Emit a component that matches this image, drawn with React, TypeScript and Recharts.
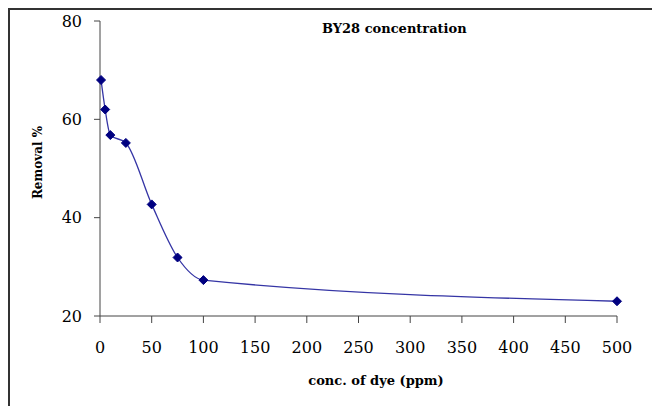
import React from 'react';
import { LineChart, Line, XAxis, YAxis } from 'recharts';

const concentrations = [1, 5, 10, 25, 50, 75, 100, 500];
const removal = [68, 62, 56.8, 55.2, 42.7, 31.9, 27.3, 23];
const xTicks = [0, 50, 100, 150, 200, 250, 300, 350, 400, 450, 500];
const yTicks = [20, 40, 60, 80];

const data = concentrations.map((c, i) => ({ conc: c, removal: removal[i] }));

const serif = '"DejaVu Serif", serif';

const Diamond = (props: any) => {
  const { cx, cy } = props;
  if (cx == null || cy == null) return null;
  const r = 4.5;
  return (
    <polygon
      points={`${cx},${cy - r} ${cx + r},${cy} ${cx},${cy + r} ${cx - r},${cy}`}
      fill="#000080"
      stroke="#000080"
    />
  );
};

const YLabel = (props: any) => {
  const { viewBox } = props;
  const x = 38;
  const y = viewBox.y + viewBox.height / 2 - 6;
  return (
    <text
      x={x}
      y={y}
      transform={`rotate(-90, ${x}, ${y})`}
      textAnchor="middle"
      dominantBaseline="central"
      style={{ fontFamily: serif, fontWeight: 'bold', fontSize: 12 }}
      fill="#000"
    >
      Removal %
    </text>
  );
};

const XLabel = (props: any) => {
  const { viewBox } = props;
  return (
    <text
      x={376}
      y={viewBox.y + 64}
      textAnchor="middle"
      dominantBaseline="central"
      style={{ fontFamily: serif, fontWeight: 'bold', fontSize: 13 }}
      fill="#000"
    >
      conc. of dye (ppm)
    </text>
  );
};

const App: React.FC = () => {
  return (
    <div style={{ position: 'absolute', left: 0, top: 0, width: 652, height: 406, background: '#fff' }}>
      <div style={{
        position: 'absolute',
        left: 8,
        top: 8,
        width: 644,
        height: 398,
        borderTop: '2px solid #333',
        borderLeft: '2px solid #333',
        boxSizing: 'border-box'
      }} />
      <div style={{
        position: 'absolute',
        left: 322,
        top: 21,
        fontFamily: serif,
        fontWeight: 'bold',
        fontSize: 13,
        color: '#000',
        whiteSpace: 'nowrap'
      }}>
        BY28 concentration
      </div>
      <LineChart
        width={652}
        height={406}
        data={data}
        margin={{ top: 21, right: 35, left: 40, bottom: 0 }}
        style={{ position: 'absolute', left: 0, top: 0, fontFamily: serif }}
      >
        <XAxis
          dataKey="conc"
          type="number"
          domain={[0, 500]}
          ticks={xTicks}
          interval={0}
          axisLine={{ stroke: '#444' }}
          tickLine={{ stroke: '#444' }}
          tickSize={7}
          tickMargin={19}
          height={90}
          tick={{ fontSize: 16, fill: '#000', style: { fontFamily: serif } }}
          label={<XLabel />}
        />
        <YAxis
          type="number"
          domain={[20, 80]}
          ticks={yTicks}
          interval={0}
          width={60}
          axisLine={{ stroke: '#444' }}
          tickLine={{ stroke: '#444' }}
          tickSize={6}
          tickMargin={12}
          tick={{ fontSize: 16, fill: '#000', style: { fontFamily: serif } }}
          label={<YLabel />}
        />
        <Line
          type="monotone"
          dataKey="removal"
          stroke="#3535a5"
          strokeWidth={1.3}
          dot={<Diamond />}
          activeDot={false}
          isAnimationActive={false}
        />
      </LineChart>
    </div>
  );
};

export default App;
